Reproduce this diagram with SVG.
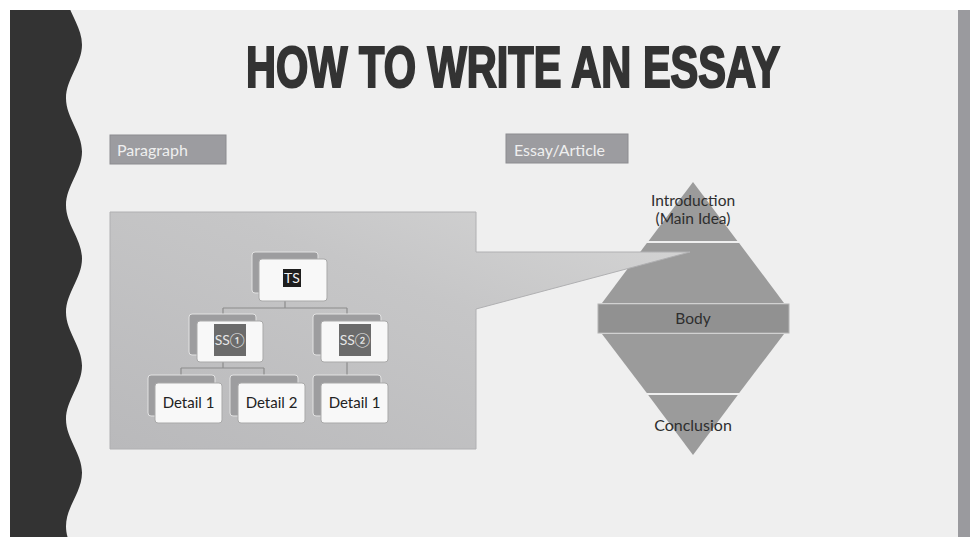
<svg xmlns="http://www.w3.org/2000/svg" width="970" height="537" viewBox="0 0 970 537">
  <style>
    .lbl { font-family: "Lato", "Open Sans", sans-serif; }
    .tag rect { fill: #9c9ca0; stroke: #8c8c90; stroke-width: 1; }
    .tag text { fill: #efefef; font-size: 16px; }
    .back { fill: #9d9d9f; stroke: #e2e2e2; stroke-width: 1; }
    .front { fill: #f8f8f8; stroke: #a9a9a9; stroke-width: 1; }
    .conn { fill: none; stroke: #8c8c8c; stroke-width: 1.2; }
    .piece { fill: #9b9b9b; }
    .dtext { fill: #222; font-size: 15px; text-anchor: middle; }
    .etext { fill: #2e2e2e; text-anchor: middle; }
  </style>
  <defs>
    <linearGradient id="panelFill" x1="0" y1="1" x2="1" y2="0">
      <stop offset="0" stop-color="#b9b9bb"/>
      <stop offset="0.6" stop-color="#c6c6c7"/>
      <stop offset="1" stop-color="#d6d6d6"/>
    </linearGradient>
  </defs>

  <!-- page -->
  <rect x="0" y="0" width="970" height="537" fill="#ffffff"/>
  <rect x="10" y="10" width="948" height="527" fill="#efefef"/>
  <rect x="958" y="10" width="12" height="527" fill="#9a9a9e"/>

  <!-- wavy dark border on the left -->
  <path fill="#333333" d="M10,-8.75 L66,-8.75 C66,10.75 82,25.25 82,44.75 C82,64.25 66,78.75 66,98.25 C66,117.75 82,132.25 82,151.75 C82,171.25 66,185.75 66,205.25 C66,224.75 82,239.25 82,258.75 C82,278.25 66,292.75 66,312.25 C66,331.75 82,346.25 82,365.75 C82,385.25 66,399.75 66,419.25 C66,438.75 82,453.25 82,472.75 C82,492.25 66,506.75 66,526.25 C66,545.75 82,560.25 82,579.75 L10,579.75 Z"/>
  <rect x="0" y="0" width="970" height="10" fill="#ffffff"/>

  <!-- title, condensed horizontally -->
  <text transform="translate(246,87) scale(0.729,1)" x="0" y="0" font-family="Liberation Sans, Arial, sans-serif" font-weight="bold" font-size="57" fill="#333333" stroke="#333333" stroke-width="2.2">HOW TO WRITE AN ESSAY</text>

  <!-- section tags -->
  <g id="tag-paragraph" class="tag lbl">
    <rect x="110" y="135" width="116" height="29"/>
    <text x="117" y="156">Paragraph</text>
  </g>
  <g id="tag-essay" class="tag lbl">
    <rect x="506" y="134" width="122" height="29"/>
    <text x="514" y="156">Essay/Article</text>
  </g>

  <!-- essay diamond -->
  <g id="essay-diamond">
    <g id="intro">
      <polygon class="piece" points="693,182 737.4,241 648.6,241"/>
      <text class="etext lbl" x="693" y="206" font-size="15.5">Introduction</text>
      <text class="etext lbl" x="693" y="224" font-size="15.5">(Main Idea)</text>
    </g>
    <polygon id="upper-body" class="piece" points="646.9,243 739.1,243 784,303 602,303"/>
    <g id="body">
      <rect x="598" y="304" width="191" height="29" fill="#919191" stroke="#b4b4b4" stroke-width="1"/>
      <text class="etext lbl" x="693" y="324" font-size="15.5">Body</text>
    </g>
    <polygon id="lower-body" class="piece" points="602,334 784,334 739.2,393 646.8,393"/>
    <g id="conclusion">
      <polygon class="piece" points="648.2,395 737.8,395 693,455"/>
      <text class="etext lbl" x="693" y="431" font-size="16">Conclusion</text>
    </g>
  </g>

  <!-- paragraph panel with callout wedge into the body -->
  <path id="paragraph-panel" d="M110,212 H476 V252 L690,252 L476,309 V449 H110 Z" fill="url(#panelFill)" stroke="#b0b0b2" stroke-width="1"/>

  <!-- tree connectors -->
  <g id="connectors" class="conn">
    <path d="M285,301 V308 M223,308 H347 M223,308 V314 M347,308 V314"/>
    <path d="M223,362 V368 M181,368 H264 M181,368 V375 M264,368 V375"/>
    <path d="M347,362 V375"/>
  </g>

  <!-- tree nodes -->
  <g id="node-ts">
    <rect class="back" x="252" y="252" width="66" height="41" rx="3"/>
    <rect class="front" x="259" y="259" width="68" height="42" rx="3"/>
    <rect x="283" y="269" width="18" height="18" fill="#1e1e1e"/>
    <text class="lbl" x="292" y="283" font-size="14" fill="#f2f2f2" text-anchor="middle">TS</text>
  </g>
  <g id="node-ss1">
    <rect class="back" x="189" y="314" width="67" height="41" rx="3"/>
    <rect class="front" x="197" y="321" width="66" height="41" rx="3"/>
    <rect x="214" y="324" width="32" height="32" fill="#6b6b6b"/>
    <text x="230" y="345" font-family="Lato, DejaVu Sans, Noto Sans CJK JP, sans-serif" font-size="14" fill="#e6e6e6" text-anchor="middle">SS①</text>
  </g>
  <g id="node-ss2">
    <rect class="back" x="313" y="314" width="68" height="41" rx="3"/>
    <rect class="front" x="321" y="321" width="67" height="41" rx="3"/>
    <rect x="339" y="324" width="32" height="32" fill="#6b6b6b"/>
    <text x="355" y="345" font-family="Lato, DejaVu Sans, Noto Sans CJK JP, sans-serif" font-size="14" fill="#e6e6e6" text-anchor="middle">SS②</text>
  </g>
  <g id="node-detail-1a">
    <rect class="back" x="148" y="375" width="67" height="41" rx="3"/>
    <rect class="front" x="155" y="383" width="67" height="40" rx="3"/>
    <text class="dtext lbl" x="188.5" y="408">Detail 1</text>
  </g>
  <g id="node-detail-2">
    <rect class="back" x="230" y="375" width="68" height="41" rx="3"/>
    <rect class="front" x="238" y="383" width="67" height="40" rx="3"/>
    <text class="dtext lbl" x="271.5" y="408">Detail 2</text>
  </g>
  <g id="node-detail-1b">
    <rect class="back" x="313" y="375" width="68" height="41" rx="3"/>
    <rect class="front" x="321" y="383" width="67" height="40" rx="3"/>
    <text class="dtext lbl" x="354.5" y="408">Detail 1</text>
  </g>
</svg>
